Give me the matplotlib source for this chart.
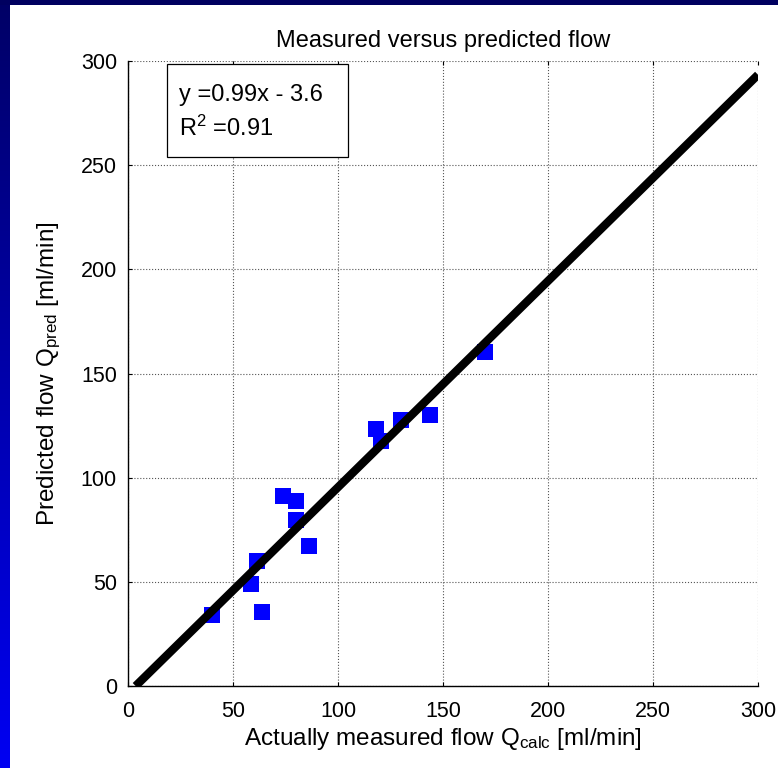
import matplotlib
matplotlib.use('Agg')
import matplotlib.pyplot as plt
import numpy as np
from matplotlib.patches import Rectangle

plt.rcParams['font.family'] = ['Liberation Sans', 'DejaVu Sans']
plt.rcParams['mathtext.fontset'] = 'custom'
plt.rcParams['mathtext.rm'] = 'Liberation Sans'
plt.rcParams['mathtext.it'] = 'Liberation Sans:italic'

# measured (x) vs predicted (y) flow, ml/min
q_calc = [40.2, 58.8, 61.2, 64.0, 73.6, 80.2, 80.2, 86.4,
          117.9, 120.7, 130.2, 144.0, 170.2]
q_pred = [34.3, 49.2, 59.8, 35.3, 91.0, 88.6, 79.9, 67.4,
          123.6, 117.4, 127.9, 130.3, 160.1]

# regression line y = a*x + b and its fit quality
slope = 0.99
intercept = -3.6
r_squared = 0.91

ticks = [0, 50, 100, 150, 200, 250, 300]

W, H = 778, 768
fig = plt.figure(figsize=(W / 100, H / 100), dpi=100)
fig.patch.set_facecolor('white')

# navy frame: gradient strip on the left, dark band on top
band = fig.add_axes([0, 0, 10 / W, 1])
grad = np.linspace(0, 1, 256).reshape(-1, 1)
band.imshow(np.dstack([np.zeros_like(grad), np.zeros_like(grad),
                       0.40 + 0.55 * grad]), aspect='auto', origin='upper')
band.set_axis_off()
fig.patches.append(Rectangle((0, 1 - 5 / H), 1, 5 / H, transform=fig.transFigure,
                             facecolor='#000060', edgecolor='none', zorder=5))

ax = fig.add_axes([128 / W, (H - 686) / H, 630 / W, 625 / H])
ax.set_xlim(0, 300)
ax.set_ylim(0, 300)
ax.set_xticks(ticks)
ax.set_yticks(ticks)
ax.tick_params(labelsize=15.5, direction='in', length=3, width=0.8, pad=8,
               top=True, right=False)
ax.tick_params(axis='x', pad=11)
for side in ('top', 'right'):
    ax.spines[side].set_visible(False)
for side in ('left', 'bottom'):
    ax.spines[side].set_linewidth(1.0)
ax.grid(True, linestyle=':', color='#555555', linewidth=0.8)
ax.set_axisbelow(True)

ax.plot(q_calc, q_pred, 's', color='#0000ff', markersize=11, markeredgewidth=0,
        zorder=3)

x_fit = np.array([-intercept / slope, 300])
ax.plot(x_fit, slope * x_fit + intercept, color='black', linewidth=6,
        solid_capstyle='butt', zorder=4)

ax.add_patch(Rectangle((18.4, 253.8), 86.4, 44.8, facecolor='white',
                       edgecolor='black', linewidth=0.9, zorder=5))
ax.text(24.5, 281, 'y =%.2fx - %.1f' % (slope, -intercept), fontsize=17,
        va='baseline', zorder=6)
ax.text(24.5, 264, 'R$^2$ =%.2f' % r_squared, fontsize=17, va='baseline',
        zorder=6)

ax.set_title('Measured versus predicted flow', fontsize=17, pad=10)
ax.set_xlabel('Actually measured flow Q$_{\\mathrm{calc}}$ [ml/min]',
              fontsize=17.5, labelpad=3)
ax.set_ylabel('Predicted flow Q$_{\\mathrm{pred}}$ [ml/min]', fontsize=17.5,
              labelpad=13)

fig.savefig('out.png', dpi=100)
